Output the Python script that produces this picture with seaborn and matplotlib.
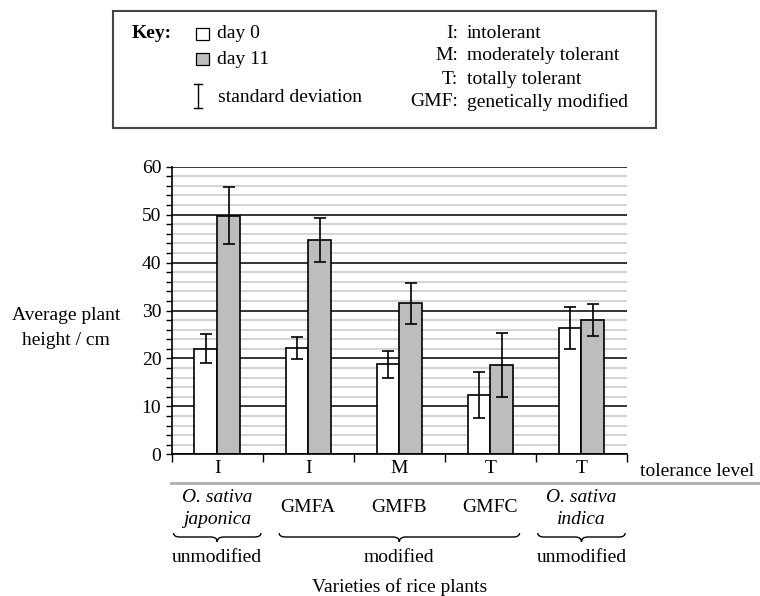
import matplotlib
matplotlib.use("Agg")
import matplotlib.pyplot as plt
import seaborn as sns
import pandas as pd
from matplotlib.ticker import MultipleLocator, FixedLocator
from matplotlib.patches import Rectangle, PathPatch
from matplotlib.path import Path
from matplotlib.lines import Line2D
import matplotlib.transforms as mtrans

# ---------------- data ----------------
varieties = ["O. sativa japonica", "GMFA", "GMFB", "GMFC", "O. sativa indica"]
tolerance = ["I", "I", "M", "T", "T"]
day0_height = [22.0, 22.2, 18.8, 12.4, 26.3]
day0_sd = [3.0, 2.3, 2.8, 4.8, 4.4]
day11_height = [49.8, 44.7, 31.5, 18.7, 28.0]
day11_sd = [5.9, 4.5, 4.3, 6.7, 3.3]
days = ["day 0", "day 11"]

df = pd.DataFrame({
    "variety": varieties * 2,
    "day": [days[0]] * 5 + [days[1]] * 5,
    "height": day0_height + day11_height,
})

W, H = 760, 596
plt.rcParams["font.family"] = ["Liberation Serif", "DejaVu Serif"]
FS = 14

fig = plt.figure(figsize=(W / 100, H / 100), dpi=100)
ax = fig.add_axes([171.7 / W, 1 - 454.3 / H, (627 - 171.7) / W, (454.3 - 166.7) / H])

def fx(x):
    return x / W

def fy(y):
    return 1 - y / H

grey = "#bdbdbf"
sns.barplot(data=df, x="variety", y="height", hue="day", order=varieties,
            hue_order=days, palette=["white", grey], edgecolor="black",
            linewidth=1.2, width=0.5, errorbar=None, legend=False, ax=ax,
            saturation=1)

# error bars from precomputed standard deviations
for cont, sds in zip(ax.containers, [day0_sd, day11_sd]):
    xs = [b.get_x() + b.get_width() / 2 for b in cont]
    ys = [b.get_height() for b in cont]
    ax.errorbar(xs, ys, yerr=sds, fmt="none", ecolor="black", elinewidth=1.2,
                capsize=4.5, capthick=1.2, zorder=5)

ax.set_ylim(0, 60)
ax.set_xlim(-0.5, 4.5)
ax.set_axisbelow(True)
ax.yaxis.set_major_locator(MultipleLocator(10))
ax.yaxis.set_minor_locator(MultipleLocator(2))
ax.grid(axis="y", which="major", color="black", linewidth=1.1)
ax.grid(axis="y", which="minor", color="#c8c8c8", linewidth=1.1)
ax.grid(axis="x", which="both", visible=False)
for s in ["top", "right"]:
    ax.spines[s].set_visible(False)
for s in ["left", "bottom"]:
    ax.spines[s].set_linewidth(1.2)
    ax.spines[s].set_color("black")

ax.tick_params(axis="y", which="both", direction="out", length=4.5, width=1.0,
               labelsize=FS, pad=3)
ax.xaxis.set_major_locator(FixedLocator([-0.5, 0.5, 1.5, 2.5, 3.5, 4.5]))
ax.xaxis.set_minor_locator(FixedLocator([0, 1, 2, 3, 4]))
ax.set_xticklabels([""] * 6)
ax.set_xticklabels(tolerance, minor=True)
ax.tick_params(axis="x", which="major", direction="out", length=6, width=1.0)
ax.tick_params(axis="x", which="minor", length=0, labelsize=FS, pad=4)
ax.set_xlabel("")
ax.set_ylabel("")

# y label
fig.text(fx(66), fy(328), "Average plant\nheight / cm", ha="center", va="center",
         fontsize=FS, linespacing=1.55)

fig.text(fx(640), fy(471), "tolerance level", ha="left", va="center", fontsize=FS)
fig.add_artist(Line2D([fx(171), fx(760)], [fy(483), fy(483)], color="#b0b0b0",
                      linewidth=2.0, transform=fig.transFigure))

blend = mtrans.blended_transform_factory(ax.transData, fig.transFigure)

# variety labels
for i, v in enumerate(varieties):
    if v.startswith("O. sativa"):
        fig.text(i, fy(498), "O. sativa", ha="center", va="center", fontsize=FS,
                 style="italic", transform=blend)
        fig.text(i, fy(520), v.split()[-1], ha="center", va="center", fontsize=FS,
                 style="italic", transform=blend)
    else:
        fig.text(i, fy(508), v, ha="center", va="center", fontsize=FS, transform=blend)

def brace(a, b, yline=537, up=4, down=5, d=0.07):
    m = (a + b) / 2
    y0 = fy(yline)
    yu = fy(yline - up)
    yd = fy(yline + down)
    verts = [(a, yu), (a, y0), (a + d, y0),
             (m - d, y0),
             (m, y0), (m, yd),
             (m, y0), (m + d, y0),
             (b - d, y0),
             (b, y0), (b, yu)]
    codes = [Path.MOVETO, Path.CURVE3, Path.CURVE3,
             Path.LINETO,
             Path.CURVE3, Path.CURVE3,
             Path.CURVE3, Path.CURVE3,
             Path.LINETO,
             Path.CURVE3, Path.CURVE3]
    fig.add_artist(PathPatch(Path(verts, codes), facecolor="none", edgecolor="black",
                             linewidth=1.0, transform=blend))

brace(-0.48, 0.48)
brace(0.68, 3.32)
brace(3.52, 4.48)

fig.text(0, fy(557), "unmodified", ha="center", va="center", fontsize=FS, transform=blend)
fig.text(2, fy(557), "modified", ha="center", va="center", fontsize=FS, transform=blend)
fig.text(4, fy(557), "unmodified", ha="center", va="center", fontsize=FS, transform=blend)
fig.text(2, fy(587), "Varieties of rice plants", ha="center", va="center",
         fontsize=FS, transform=blend)

# ---------------- key box ----------------
fig.add_artist(Rectangle((fx(113), fy(128)), fx(656) - fx(113), fy(11) - fy(128),
                         facecolor="white", edgecolor="#444444", linewidth=1.5,
                         transform=fig.transFigure))
fig.text(fx(132), fy(33), "Key:", ha="left", va="center", fontsize=FS,
         fontweight="bold")
fig.add_artist(Rectangle((fx(196), fy(40)), fx(13), 12 / H,
                         facecolor="white", edgecolor="black", linewidth=0.9,
                         transform=fig.transFigure))
fig.add_artist(Rectangle((fx(196), fy(65)), fx(13), 12 / H,
                         facecolor=grey, edgecolor="black", linewidth=0.9,
                         transform=fig.transFigure))
fig.text(fx(217), fy(33), days[0], ha="left", va="center", fontsize=FS)
fig.text(fx(217), fy(59), days[1], ha="left", va="center", fontsize=FS)
# error-bar symbol
ex = 198
for seg in [([ex, ex], [84, 108]), ([ex - 4, ex + 4], [84, 84]), ([ex - 4, ex + 4], [108, 108])]:
    fig.add_artist(Line2D([fx(v) for v in seg[0]], [fy(v) for v in seg[1]],
                          color="black", linewidth=1.0, transform=fig.transFigure))
fig.text(fx(218), fy(97), "standard deviation", ha="left", va="center", fontsize=FS)

abbr = ["I:", "M:", "T:", "GMF:"]
meaning = ["intolerant", "moderately tolerant", "totally tolerant", "genetically modified"]
for i, (a_, m_) in enumerate(zip(abbr, meaning)):
    yy = [33, 56, 79, 102][i]
    fig.text(fx(458), fy(yy), a_, ha="right", va="center", fontsize=FS)
    fig.text(fx(467), fy(yy), m_, ha="left", va="center", fontsize=FS)

fig.savefig("out.png", dpi=100)
